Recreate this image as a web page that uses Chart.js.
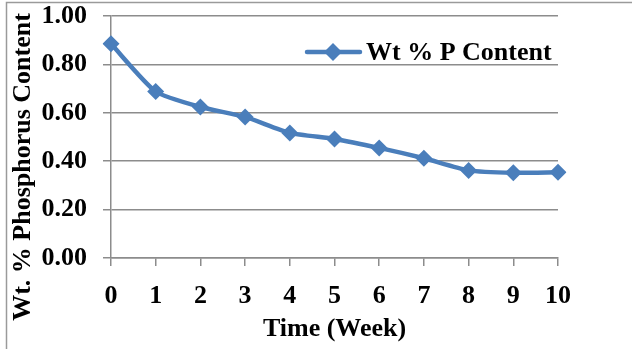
<!DOCTYPE html>
<html>
<head>
<meta charset="utf-8">
<script src="https://cdn.jsdelivr.net/npm/chart.js@4"></script>
<style>
  html, body { margin: 0; padding: 0; background: #fff; }
  #wrap { width: 632px; height: 349px; }
</style>
</head>
<body>
<div id="wrap"><canvas id="chartP" width="632" height="349"></canvas></div>
<script>
const weeks = ["0", "1", "2", "3", "4", "5", "6", "7", "8", "9", "10"];
const pContent = [0.885, 0.688, 0.624, 0.583, 0.517, 0.492, 0.455, 0.412, 0.362, 0.352, 0.354];
const seriesLabel = "Wt % P Content";
const yTitle = "Wt. % Phosphorus Content";
const xTitle = "Time (Week)";

const blue = '#4A7EBB';
const gridGray = '#8c8c8c';
const serif = '"Liberation Serif", "Times New Roman", serif';

// frame, y title and the legend sitting inside the plot
const extras = {
    id: 'extras',
    afterDraw(chart) {
        const ctx = chart.ctx;
        ctx.save();
        ctx.strokeStyle = '#9a9a9a';
        ctx.lineWidth = 1.5;
        ctx.beginPath();
        ctx.moveTo(6.5, 349);
        ctx.lineTo(6.5, 2.5);
        ctx.lineTo(632, 2.5);
        ctx.stroke();

        ctx.fillStyle = '#000';
        ctx.font = 'bold 26px ' + serif;
        ctx.textAlign = 'center';
        ctx.textBaseline = 'middle';
        ctx.translate(23, 167);
        ctx.rotate(-Math.PI / 2);
        ctx.fillText(yTitle, 0, 0);
        ctx.restore();

        ctx.save();
        const ds = chart.data.datasets[0];
        const ly = 52;
        ctx.strokeStyle = ds.borderColor;
        ctx.lineWidth = 4.5;
        ctx.lineCap = 'round';
        ctx.beginPath();
        ctx.moveTo(307, ly);
        ctx.lineTo(360, ly);
        ctx.stroke();
        ctx.fillStyle = ds.backgroundColor;
        ctx.beginPath();
        ctx.moveTo(333, ly - 9);
        ctx.lineTo(342, ly);
        ctx.lineTo(333, ly + 9);
        ctx.lineTo(324, ly);
        ctx.closePath();
        ctx.fill();
        ctx.fillStyle = '#000';
        ctx.font = 'bold 26px ' + serif;
        ctx.textAlign = 'left';
        ctx.textBaseline = 'middle';
        ctx.fillText(ds.label, 366, ly + 1);
        ctx.restore();
    }
};

const ctx = document.getElementById('chartP').getContext('2d');
new Chart(ctx, {
    type: 'line',
    data: {
        labels: weeks,
        datasets: [{
            label: seriesLabel,
            data: pContent,
            borderColor: blue,
            backgroundColor: blue,
            borderWidth: 4.5,
            tension: 0.2,
            pointStyle: 'rectRot',
            pointRadius: 8.5,
            pointBorderWidth: 0,
            pointBackgroundColor: blue
        }]
    },
    options: {
        responsive: false,
        animation: false,
        layout: { padding: { left: 0, top: 16, right: 74, bottom: 0 } },
        plugins: {
            legend: { display: false },
            tooltip: { enabled: false }
        },
        scales: {
            x: {
                offset: false,
                afterFit: s => { s.height = 91; },
                grid: { drawOnChartArea: false, drawTicks: true, tickLength: 8, color: gridGray, lineWidth: 1.5 },
                border: { color: gridGray, width: 1.5 },
                ticks: { color: '#000', font: { family: serif, size: 26, weight: 'bold' }, padding: 15, maxRotation: 0, autoSkip: false },
                title: { display: true, text: xTitle, color: '#000', font: { family: serif, size: 26, weight: 'bold' }, padding: { top: 0, bottom: 4 } }
            },
            y: {
                min: 0,
                max: 1,
                afterFit: s => { s.width = 111; s.paddingTop = 0; s.paddingBottom = 0; },
                grid: { color: gridGray, lineWidth: 1.5, tickLength: 8 },
                border: { color: gridGray, width: 1.5 },
                ticks: {
                    stepSize: 0.2,
                    padding: 16,
                    color: '#000',
                    font: { family: serif, size: 26, weight: 'bold' },
                    callback: v => v.toFixed(2)
                }
            }
        }
    },
    plugins: [extras]
});
</script>
</body>
</html>
